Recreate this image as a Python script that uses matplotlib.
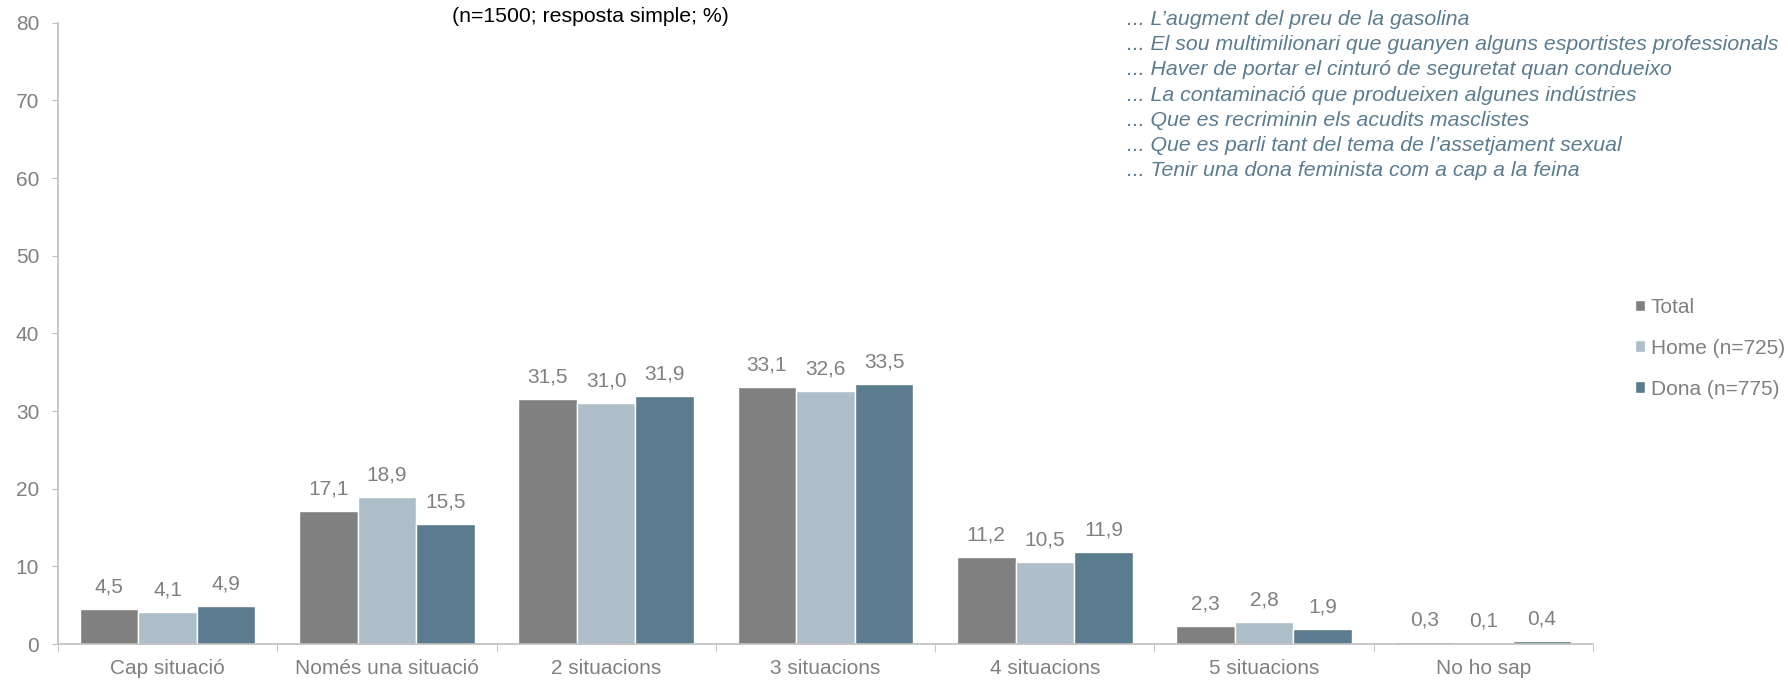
import matplotlib.pyplot as plt
import numpy as np

plt.rcParams['font.family'] = ['Liberation Sans', 'DejaVu Sans']

categories = ["Cap situació", "Només una situació", "2 situacions", "3 situacions",
              "4 situacions", "5 situacions", "No ho sap"]
series_names = ["Total", "Home (n=725)", "Dona (n=775)"]
total = [4.5, 17.1, 31.5, 33.1, 11.2, 2.3, 0.3]
home = [4.1, 18.9, 31.0, 32.6, 10.5, 2.8, 0.1]
dona = [4.9, 15.5, 31.9, 33.5, 11.9, 1.9, 0.4]
colors = ["#808080", "#adbec9", "#5b7b8f"]

situations = ["... L\u2019augment del preu de la gasolina",
              "... El sou multimilionari que guanyen alguns esportistes professionals",
              "... Haver de portar el cinturó de seguretat quan condueixo",
              "... La contaminació que produeixen algunes indústries",
              "... Que es recriminin els acudits masclistes",
              "... Que es parli tant del tema de l\u2019assetjament sexual",
              "... Tenir una dona feminista com a cap a la feina"]

grey = "#808080"
axis_col = "#bfbfbf"

fig = plt.figure(figsize=(17.88, 6.81), dpi=100)
ax = fig.add_axes([0.0324, 0.0543, 0.8586, 0.9124])

x = np.arange(len(categories))
w = 0.267
for i, (vals, col, name) in enumerate(zip([total, home, dona], colors, series_names)):
    pos = x + (i - 1) * w
    ax.bar(pos, vals, width=w, color=col, edgecolor="white", linewidth=1.0, label=name)
    for xp, v in zip(pos, vals):
        ax.annotate(f"{v:.1f}".replace(".", ","), (xp, v), xytext=(0, 9),
                    textcoords="offset points", ha="center", va="bottom",
                    fontsize=15, color=grey)

ax.set_xlim(-0.5, len(categories) - 0.5)
ax.set_ylim(0, 80)
ax.set_yticks(range(0, 81, 10))
ax.tick_params(axis="y", colors=axis_col, labelcolor=grey, labelsize=15, length=4.5, pad=9)

ax.set_xticks(x)
ax.set_xticklabels(categories)
ax.tick_params(axis="x", length=0, labelsize=15, labelcolor=grey, pad=11)
ax.set_xticks(np.arange(-0.5, len(categories)), minor=True)
ax.tick_params(axis="x", which="minor", length=6, color=axis_col)

for s in ["top", "right"]:
    ax.spines[s].set_visible(False)
for s in ["left", "bottom"]:
    ax.spines[s].set_color(axis_col)
    ax.spines[s].set_linewidth(1.2)

fig.text(0.33, 0.9765, "(n=1500; resposta simple; %)", ha="center", va="center",
         fontsize=15.3, color="black")

for k, s in enumerate(situations):
    fig.text(0.6303, 0.9715 - k * 0.0371, s, ha="left", va="center", fontsize=15.3,
             style="italic", color="#5b7b8f")

leg = fig.legend(loc="center left", bbox_to_anchor=(1635 / 1788, 0.4885), frameon=False,
                 fontsize=15, handlelength=0.5, handleheight=0.5, handletextpad=0.25,
                 labelspacing=1.05, labelcolor=grey, borderpad=0, borderaxespad=0)

fig.savefig("out.png", dpi=100)
